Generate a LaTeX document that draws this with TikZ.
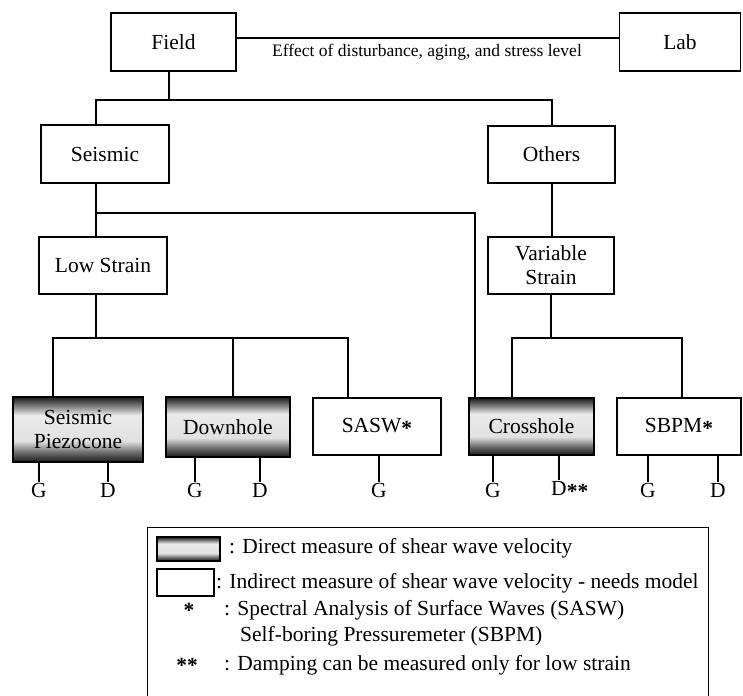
\documentclass[tikz,border=0pt]{standalone}
\usepackage{fontspec}
\setmainfont{Liberation Serif}
\pgfdeclareverticalshading{rimshade}{100bp}{color(0bp)=(black!90); color(25bp)=(black!90); color(33bp)=(black!55); color(41bp)=(black!12); color(61bp)=(black!8); color(68bp)=(black!50); color(75bp)=(black!90); color(100bp)=(black!90)}
\newcommand\myfs{\fontsize{21.5}{24}\selectfont}
\newcommand\myast{\raisebox{-0.3ex}{\textbf{*}}}
\begin{document}
\begin{tikzpicture}[x=1pt,y=-1pt,
  box/.style={draw, line width=1.2pt, inner sep=0pt, align=center, font=\myfs},
  dbox/.style={box, line width=2pt, shade, shading=rimshade},
  wire/.style={line width=1.2pt},
  leaf/.style={inner sep=1pt, font=\myfs},
  legtext/.style={anchor=west, inner sep=0pt, font=\myfs}]
\useasboundingbox (0,0) rectangle (743,695);

% top level
\node[box, minimum width=125pt, minimum height=58pt] (Field) at (173.5,42) {Field};
\node[box, minimum width=121pt, minimum height=58pt] (Lab) at (680,42) {Lab};
\node[inner sep=0pt, font=\fontsize{17.5}{20}\selectfont] (effect) at (427,52) {Effect of disturbance, aging, and stress level};

% second level
\node[box, minimum width=128pt, minimum height=58pt] (Seismic) at (105,154) {Seismic};
\node[box, minimum width=127pt, minimum height=57pt] (Others) at (551.5,154.5) {Others};

% third level
\node[box, minimum width=128pt, minimum height=57pt] (LowStrain) at (103,265.5) {Low Strain};
\node[box, minimum width=126pt, minimum height=57pt] (VarStrain) at (551,265.5) {Variable\\Strain};

% methods
\node[dbox, minimum width=130pt, minimum height=65pt] (Piezo) at (78,429.5) {Seismic\\Piezocone};
\node[dbox, minimum width=124pt, minimum height=60pt] (Downhole) at (228,427) {Downhole};
\node[box, minimum width=128pt, minimum height=57pt] (SASW) at (377,426.5) {SASW\myast};
\node[dbox, minimum width=125pt, minimum height=57pt] (Crosshole) at (531.5,426.5) {Crosshole};
\node[box, minimum width=124pt, minimum height=57pt] (SBPM) at (679,426.5) {SBPM\myast};

% leaves
\node[leaf] (g1) at (39,490) {G};
\node[leaf] (d1) at (108,490) {D};
\node[leaf] (g2) at (195,490) {G};
\node[leaf] (d2) at (260,490) {D};
\node[leaf] (g3) at (379,490) {G};
\node[leaf] (g4) at (493,490) {G};
\node[leaf] (d4) at (559,490) {D\rlap{\myast\myast}};
\node[leaf] (g5) at (648,490) {G};
\node[leaf] (d5) at (718,490) {D};

% junction coordinates
\coordinate (bF) at (169,100);
\coordinate (bS) at (96,100);
\coordinate (bO) at (552,100);
\coordinate (bS2) at (96,213);
\coordinate (xC1) at (475,0);
\coordinate (bL) at (96,338);
\coordinate (bL1) at (53,338);
\coordinate (bL2) at (233,338);
\coordinate (bL3) at (348,338);
\coordinate (bV) at (551,338);
\coordinate (bV1) at (512,338);
\coordinate (bV2) at (682,338);

% connectors
\draw[wire] ([yshift=4pt]Field.east) -- ([yshift=4pt]Lab.west);
\draw[wire] (Field.south -| bF) -- (bF);
\draw[wire] (Seismic.north -| bS) -- (bS) -- (bO) -- (Others.north -| bO);
\draw[wire] (Seismic.south -| bS) -- (LowStrain.north -| bS);
\draw[wire] (bS2) -| (Crosshole.north -| xC1);
\draw[wire] (Others.south -| bO) -- (VarStrain.north -| bO);
\draw[wire] (LowStrain.south -| bL) -- (bL);
\draw[wire] (Piezo.north -| bL1) -- (bL1) -- (bL3) -- (SASW.north -| bL3);
\draw[wire] (bL2) -- (Downhole.north -| bL2);
\draw[wire] (VarStrain.south -| bV) -- (bV);
\draw[wire] (Crosshole.north -| bV1) -- (bV1) -- (bV2) -- (SBPM.north -| bV2);

\draw[wire] (Piezo.south -| g1) -- (g1.north);
\draw[wire] (Piezo.south -| d1) -- (d1.north);
\draw[wire] (Downhole.south -| g2) -- (g2.north);
\draw[wire] (Downhole.south -| d2) -- (d2.north);
\draw[wire] (SASW.south -| g3) -- (g3.north);
\draw[wire] (Crosshole.south -| g4) -- (g4.north);
\draw[wire] (Crosshole.south -| d4) -- (d4.north);
\draw[wire] (SBPM.south -| g5) -- (g5.north);
\draw[wire] (SBPM.south -| d5) -- (d5.north);

% legend
\node[draw, line width=1.2pt, inner sep=0pt, minimum width=561pt, minimum height=171pt, anchor=north west] (legend) at (147,527) {};
\node[dbox, line width=1.6pt, minimum width=63pt, minimum height=24pt] (dsw) at (188.5,549) {};
\node[box, minimum width=57pt, minimum height=27pt] (isw) at (185.5,582.5) {};
\node[legtext] (t1) at (229,548) {: Direct measure of shear wave velocity};
\node[legtext] (t2) at (216,583) {: Indirect measure of shear wave velocity - needs model};
\node[inner sep=0pt, font=\myfs] (s1) at (189,610) {\myast};
\node[legtext] (t3) at (224,610) {: Spectral Analysis of Surface Waves (SASW)};
\node[legtext] (t4) at (240,636) {Self-boring Pressuremeter (SBPM)};
\node[inner sep=0pt, font=\myfs] (s2) at (187,665) {\myast\myast};
\node[legtext] (t5) at (224,665) {: Damping can be measured only for low strain};
\end{tikzpicture}
\end{document}
